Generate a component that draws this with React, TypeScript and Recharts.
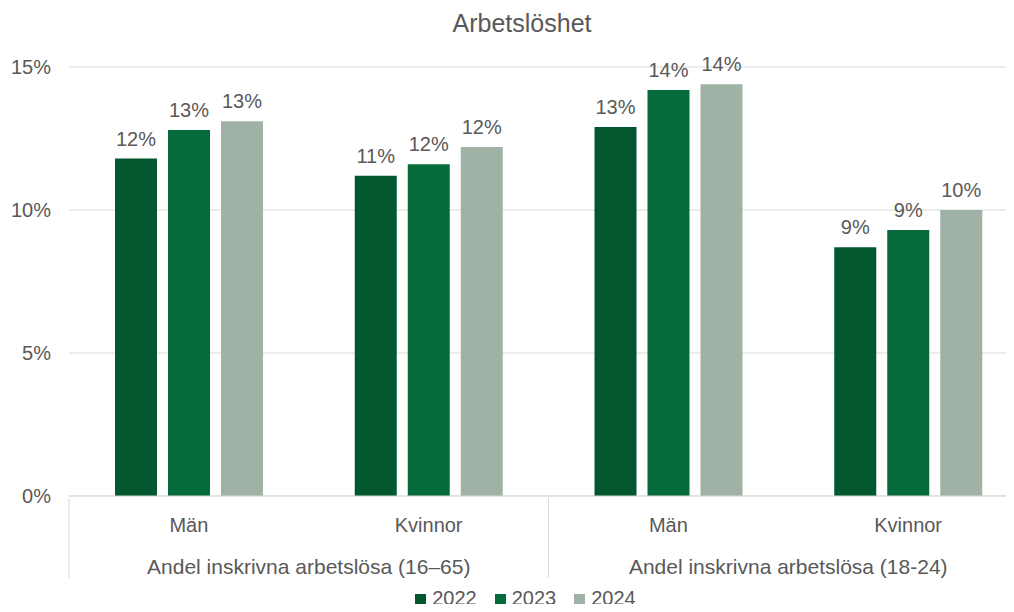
import React from "react";
import {
  BarChart,
  Bar,
  XAxis,
  YAxis,
  CartesianGrid,
  Legend,
  LabelList,
} from "recharts";

// categories (inner level) and their outer group
const categories = ["Män", "Kvinnor", "Män", "Kvinnor"];
const groups = [
  "Andel inskrivna arbetslösa (16–65)",
  "Andel inskrivna arbetslösa (16–65)",
  "Andel inskrivna arbetslösa (18-24)",
  "Andel inskrivna arbetslösa (18-24)",
];

// unemployment, percent
const v2022 = [11.8, 11.2, 12.9, 8.7];
const v2023 = [12.8, 11.6, 14.2, 9.3];
const v2024 = [13.1, 12.2, 14.4, 10.0];

const yTicks = [0, 5, 10, 15];
const years = ["2022", "2023", "2024"];
const colors = ["#03572f", "#066b3a", "#a0b2a5"];

const data = categories.map((c, i) => ({
  key: `${c}-${i}`,
  name: c,
  group: groups[i],
  y2022: v2022[i],
  y2023: v2023[i],
  y2024: v2024[i],
}));

const FONT = "'Liberation Sans', Arial, sans-serif";
const TEXT = "#595959";
const GRID = "#d9d9d9";

const CHART_W = 1040;
const CHART_H = 612;
const Y_W = 69;
const M_RIGHT = 12;
const PLOT_W = CHART_W - Y_W - M_RIGHT;
const GROUP_BAND = (PLOT_W / categories.length) * 2;

const CatTick = (props: any) => {
  const { x, y, payload, index } = props;
  return (
    <text
      x={x}
      y={y + 34}
      textAnchor="middle"
      fill={TEXT}
      fontSize={20}
      fontFamily={FONT}
    >
      {categories[index] ?? payload.value}
    </text>
  );
};

const GroupTick = (props: any) => {
  const { x, y, payload } = props;
  const left = x - GROUP_BAND / 2;
  const right = x + GROUP_BAND / 2;
  return (
    <g>
      <line x1={left} x2={left} y1={y - 44} y2={y + 36} stroke={GRID} />
      <line x1={right} x2={right} y1={y - 44} y2={y + 36} stroke={GRID} />
      <text
        x={x}
        y={y + 32}
        textAnchor="middle"
        fill={TEXT}
        fontSize={21}
        fontFamily={FONT}
      >
        {payload.value}
      </text>
    </g>
  );
};

const LegendContent = () => (
  <div
    style={{
      display: "flex",
      justifyContent: "center",
      alignItems: "flex-end",
      boxSizing: "border-box",
      height: 30,
      width: 1014,
      paddingLeft: 37,
      paddingBottom: 4,
      fontFamily: FONT,
      fontSize: 20,
      lineHeight: "20px",
      color: TEXT,
    }}
  >
    {years.map((yr, i) => (
      <div
        key={yr}
        style={{ display: "flex", alignItems: "center", marginRight: i < 2 ? 18 : 0 }}
      >
        <span
          style={{
            display: "inline-block",
            width: 11,
            height: 11,
            background: colors[i],
            marginRight: 6,
            marginTop: 3,
          }}
        />
        <span>{yr}</span>
      </div>
    ))}
  </div>
);

export default function App() {
  return (
    <div
      style={{
        position: "relative",
        width: 1014,
        height: 612,
        overflow: "hidden",
        margin: "-8px 0 -8px -8px",
        background: "#fff",
      }}
    >
      <div
        style={{
          position: "absolute",
          top: 8,
          left: 422,
          width: 200,
          textAlign: "center",
          fontFamily: FONT,
          fontSize: 25,
          lineHeight: "30px",
          color: TEXT,
          zIndex: 2,
        }}
      >
        Arbetslöshet
      </div>
      <BarChart
        width={CHART_W}
        height={CHART_H}
        data={data}
        margin={{ top: 67, right: M_RIGHT, left: 0, bottom: 0 }}
        barSize={42}
        barGap={11}
      >
        <CartesianGrid vertical={false} stroke={GRID} />
        <XAxis
          dataKey="key"
          height={44}
          tickLine={false}
          tickSize={0}
          axisLine={{ stroke: GRID }}
          tick={<CatTick />}
          interval={0}
        />
        <XAxis
          xAxisId="grp"
          dataKey="group"
          allowDuplicatedCategory={false}
          height={42}
          tickLine={false}
          tickSize={0}
          axisLine={false}
          tick={<GroupTick />}
          interval={0}
        />
        <YAxis
          width={Y_W}
          domain={[0, 15]}
          ticks={yTicks}
          tickFormatter={(v) => `${v}%`}
          axisLine={false}
          tickLine={false}
          tickSize={0}
          tickMargin={18}
          tick={{ fill: TEXT, fontSize: 20, fontFamily: FONT }}
        />
        <Legend verticalAlign="bottom" content={<LegendContent />} />
        {years.map((yr, i) => (
          <Bar
            key={yr}
            dataKey={`y${yr}`}
            name={yr}
            fill={colors[i]}
            isAnimationActive={false}
          >
            <LabelList
              dataKey={`y${yr}`}
              position="top"
              offset={13}
              formatter={(v: any) => `${Math.round(v)}%`}
              fill={TEXT}
              fontSize={20}
              fontFamily={FONT}
            />
          </Bar>
        ))}
      </BarChart>
    </div>
  );
}
